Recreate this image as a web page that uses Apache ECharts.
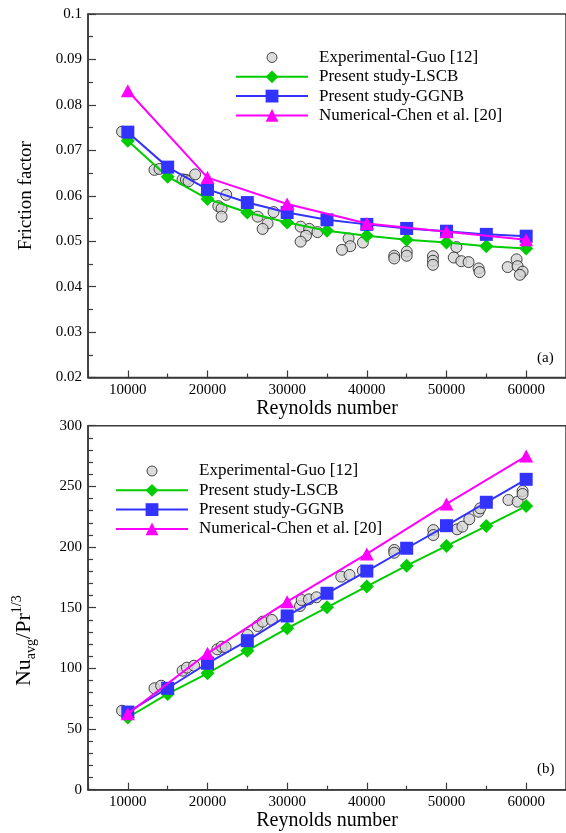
<!DOCTYPE html>
<html>
<head>
<meta charset="utf-8">
<script src="https://cdn.jsdelivr.net/npm/echarts@6/dist/echarts.min.js"></script>
<style>
  html, body { margin: 0; padding: 0; background: #fff; }
  #chart { width: 566px; height: 833px; }
</style>
</head>
<body>
<div id="chart"></div>
<script>
// Reynolds numbers of the model curves
const reModel = [10000, 15000, 20000, 25000, 30000, 35000, 40000, 45000, 50000, 55000, 60000];
const reChen = [10000, 20000, 30000, 40000, 50000, 60000];

// (a) friction factor
const fLSCB = [0.0721, 0.0642, 0.0593, 0.0563, 0.0541, 0.0523, 0.0512, 0.0503, 0.0497, 0.0489, 0.0484];
const fGGNB = [0.0740, 0.0663, 0.0614, 0.0585, 0.0563, 0.0547, 0.0537, 0.0528, 0.0522, 0.0515, 0.0511];
const fChen = [0.0831, 0.0640, 0.0582, 0.0539, 0.0521, 0.0503];
const fExpRe = [9270, 13340, 13970, 16870, 17290, 17620, 18450, 22350, 21350, 21770, 21770,
  26300, 27540, 26920, 28290, 31690, 32770, 32360, 31690, 33800, 37710, 37920, 36880, 39500,
  43440, 43440, 45010, 45010, 48300, 48300, 48300, 51240, 50910, 51860, 52770, 54030, 54150,
  57680, 58800, 58920, 59550, 59210];
const fExp = [0.0741, 0.0657, 0.0659, 0.0636, 0.0635, 0.0632, 0.0647, 0.0602, 0.0577, 0.0572, 0.0554,
  0.0554, 0.0539, 0.0527, 0.0564, 0.0532, 0.0527, 0.0512, 0.0499, 0.0520, 0.0506, 0.0489, 0.0481, 0.0497,
  0.0468, 0.0462, 0.0477, 0.0468, 0.0467, 0.0457, 0.0448, 0.0487, 0.0464, 0.0456, 0.0454, 0.0440, 0.0432,
  0.0443, 0.0460, 0.0445, 0.0433, 0.0426];

// (b) Nu_avg / Pr^(1/3)
const nuLSCB = [59.5, 78.9, 95.9, 114.6, 133.0, 150.3, 167.5, 184.6, 200.9, 217.3, 233.8];
const nuGGNB = [64.0, 83.6, 104.2, 122.8, 143.2, 161.9, 180.2, 199.0, 217.6, 236.9, 255.8];
const nuChen = [62.5, 112.4, 155.0, 194.3, 235.5, 275.0];
const nuExpRe = [9270, 13340, 14180, 16870, 17410, 18320, 21230, 21770, 22270, 25050, 26300,
  26920, 28080, 31610, 31820, 32730, 33680, 36790, 37830, 39490, 43440, 43440, 48340, 48340,
  51330, 51990, 52860, 54030, 54230, 57770, 58930, 59550, 59550];
const nuExp = [65.1, 83.6, 85.7, 98.1, 100.6, 102.2, 115.7, 117.9, 117.4, 127.5, 134.9,
  138.5, 139.9, 151.4, 156.3, 156.9, 158.6, 175.6, 177.0, 180.5, 197.6, 195.3, 214.0, 209.9,
  214.6, 216.8, 222.9, 229.1, 231.9, 238.8, 237.4, 246.2, 243.7];

const NAME_EXP = 'Experimental-Guo [12]';
const NAME_LSCB = 'Present study-LSCB';
const NAME_GGNB = 'Present study-GGNB';
const NAME_CHEN = 'Numerical-Chen et al. [20]';

const SERIF = 'Liberation Serif';
const AXIS_COLOR = '#3a3a3a';
const GREEN = '#00cc00', BLUE = '#3333ff', MAGENTA = '#ff00ff';

const zip = (xs, ys) => xs.map((x, i) => [x, ys[i]]);

function xAxisFor(gridIndex) {
  return {
    type: 'value', gridIndex, min: 5000, max: 65000, splitNumber: 6,
    name: 'Reynolds number', nameLocation: 'middle', nameGap: 19,
    nameTextStyle: { fontFamily: SERIF, fontSize: 20, color: '#000' },
    axisLine: { show: true, onZero: false, lineStyle: { color: AXIS_COLOR, width: 1.5 } },
    axisTick: { show: true, inside: true, length: 7, lineStyle: { color: AXIS_COLOR, width: 1.2 } },
    minorTick: { show: true, splitNumber: 2, length: 4, lineStyle: { color: AXIS_COLOR, width: 1.2 } },
    axisLabel: {
      fontFamily: SERIF, fontSize: 15, color: '#000', margin: 5,
      showMinLabel: false, showMaxLabel: false,
      formatter: v => (v % 10000 === 0 ? String(v) : '')
    },
    splitLine: { show: false }, minorSplitLine: { show: false }
  };
}

function yAxisFor(gridIndex, extra) {
  return Object.assign({
    type: 'value', gridIndex, nameLocation: 'middle',
    axisLine: { show: true, lineStyle: { color: AXIS_COLOR, width: 1.5 } },
    axisTick: { show: true, inside: true, length: 8, lineStyle: { color: AXIS_COLOR, width: 1.2 } },
    axisLabel: { fontFamily: SERIF, fontSize: 15, color: '#000', margin: 6 },
    splitLine: { show: false }, minorSplitLine: { show: false }
  }, extra);
}

function seriesFor(i, expRe, expVal, lscb, ggnb, chen) {
  return [
    {
      name: NAME_EXP, type: 'scatter', xAxisIndex: i, yAxisIndex: i,
      symbol: 'circle', symbolSize: 11,
      itemStyle: { color: '#d3d3d3', borderColor: '#1a1a1a', borderWidth: 1 },
      data: zip(expRe, expVal), z: 2
    },
    {
      name: NAME_LSCB, type: 'line', xAxisIndex: i, yAxisIndex: i,
      symbol: 'diamond', symbolSize: 14,
      lineStyle: { color: GREEN, width: 2 }, itemStyle: { color: GREEN },
      data: zip(reModel, lscb), z: 3
    },
    {
      name: NAME_GGNB, type: 'line', xAxisIndex: i, yAxisIndex: i,
      symbol: 'rect', symbolSize: 13,
      lineStyle: { color: BLUE, width: 2 }, itemStyle: { color: BLUE },
      data: zip(reModel, ggnb), z: 4
    },
    {
      name: NAME_CHEN, type: 'line', xAxisIndex: i, yAxisIndex: i,
      symbol: 'triangle', symbolSize: [14, 13],
      lineStyle: { color: MAGENTA, width: 2 }, itemStyle: { color: MAGENTA },
      data: zip(reChen, chen), z: 5
    }
  ];
}

// small circle inside a 16x16 box so the legend marker stays compact
const smallCircle = 'path://M0,0M16,16M13,8A5,5,0,1,1,3,8A5,5,0,1,1,13,8Z';
const legendData = [
  { name: NAME_EXP, icon: smallCircle, itemStyle: { color: '#d3d3d3', borderColor: '#1a1a1a', borderWidth: 1 } },
  NAME_LSCB, NAME_GGNB, NAME_CHEN
];

function legendAt(left, top) {
  return {
    left, top, padding: 0, orient: 'vertical', itemWidth: 72, itemHeight: 16, itemGap: 2.3,
    selectedMode: false,
    textStyle: { fontFamily: SERIF, fontSize: 17, color: '#000', padding: [0, 0, 0, 6] },
    data: legendData
  };
}

const gridBase = { left: 88, width: 482, show: true, borderColor: AXIS_COLOR, borderWidth: 1.5, backgroundColor: 'transparent' };

const chart = echarts.init(document.getElementById('chart'), null, { renderer: 'canvas' });
chart.setOption({
  animation: false,
  backgroundColor: '#fff',
  grid: [
    Object.assign({ top: 14, height: 363.5 }, gridBase),
    Object.assign({ top: 425.7, height: 364 }, gridBase)
  ],
  xAxis: [xAxisFor(0), xAxisFor(1)],
  yAxis: [
    yAxisFor(0, {
      min: 0.02, max: 0.1, interval: 0.01,
      name: 'Friction factor', nameGap: 52,
      nameTextStyle: { fontFamily: SERIF, fontSize: 19, color: '#000' },
      minorTick: { show: true, splitNumber: 2, length: 5, lineStyle: { color: AXIS_COLOR, width: 1.2 } }
    }),
    yAxisFor(1, {
      min: 0, max: 300, interval: 50,
      name: '{a|Nu}{b|avg}{a|/Pr}{c|1/3}', nameGap: 50,
      nameTextStyle: {
        fontFamily: SERIF, fontSize: 22, color: '#000', padding: [0, 66, 0, 0],
        rich: {
          a: { fontFamily: SERIF, fontSize: 22, color: '#000', lineHeight: 28 },
          b: { fontFamily: SERIF, fontSize: 14, color: '#000', verticalAlign: 'bottom' },
          c: { fontFamily: SERIF, fontSize: 14, color: '#000', verticalAlign: 'top' }
        }
      },
      minorTick: { show: true, splitNumber: 5, length: 5, lineStyle: { color: AXIS_COLOR, width: 1.2 } }
    })
  ],
  legend: [legendAt(235, 49), legendAt(115, 462.5)],
  graphic: [
    { type: 'text', left: 537, top: 351, style: { text: '(a)', fontFamily: SERIF, fontSize: 15, fill: '#000' } },
    { type: 'text', left: 537, top: 762, style: { text: '(b)', fontFamily: SERIF, fontSize: 15, fill: '#000' } }
  ],
  series: [
    ...seriesFor(0, fExpRe, fExp, fLSCB, fGGNB, fChen),
    ...seriesFor(1, nuExpRe, nuExp, nuLSCB, nuGGNB, nuChen)
  ]
});
</script>
</body>
</html>
